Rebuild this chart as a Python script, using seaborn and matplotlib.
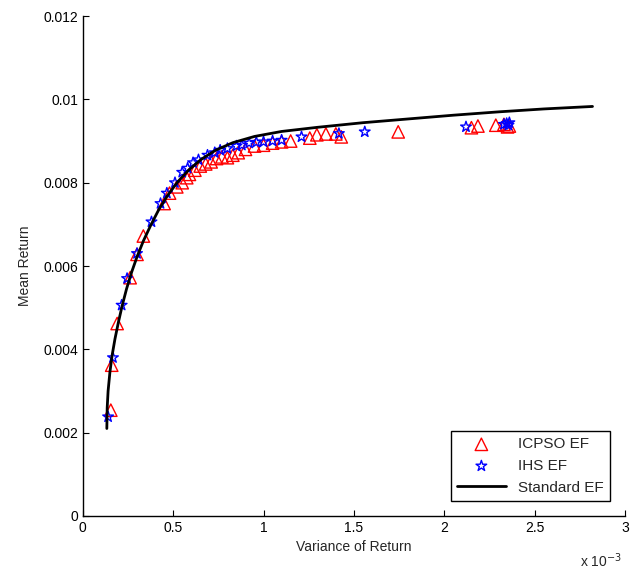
import numpy as np
import pandas as pd
import matplotlib
matplotlib.use("Agg")
import matplotlib.pyplot as plt
import seaborn as sns

# variance values are in units of 1e-3
icpso_var = [0.155, 0.160, 0.190, 0.262, 0.300, 0.335, 0.450, 0.480, 0.520, 0.550,
             0.575, 0.590, 0.620, 0.650, 0.680, 0.710, 0.740, 0.770, 0.800, 0.830,
             0.860, 0.900, 0.950, 1.000, 1.050, 1.100, 1.150, 1.256, 1.295, 1.345,
             1.400, 1.430, 1.745, 2.150, 2.186, 2.285, 2.330, 2.350, 2.360]
icpso_ret = [0.00254, 0.00362, 0.00462, 0.00572, 0.00628, 0.00672, 0.00750, 0.00775, 0.00790, 0.00800,
             0.00812, 0.00820, 0.00830, 0.00840, 0.00845, 0.00850, 0.00858, 0.00862, 0.00860, 0.00866,
             0.00872, 0.00880, 0.00888, 0.00890, 0.00895, 0.00898, 0.00900, 0.00907, 0.00915, 0.00917,
             0.00917, 0.00910, 0.00922, 0.00932, 0.00936, 0.00938, 0.00940, 0.00934, 0.00936]

ihs_var = [0.140, 0.167, 0.215, 0.245, 0.300, 0.380, 0.430, 0.465, 0.510, 0.550,
           0.580, 0.610, 0.640, 0.690, 0.730, 0.760, 0.800, 0.850, 0.880, 0.920,
           0.960, 1.000, 1.050, 1.100, 1.210, 1.417, 1.560, 2.120, 2.330, 2.345,
           2.355, 2.360]
ihs_ret = [0.00238, 0.00380, 0.00506, 0.00570, 0.00630, 0.00706, 0.00750, 0.00775, 0.00800, 0.00825,
           0.00835, 0.00848, 0.00855, 0.00866, 0.00872, 0.00878, 0.00882, 0.00888, 0.00890, 0.00895,
           0.00897, 0.00898, 0.00900, 0.00902, 0.00910, 0.00918, 0.00922, 0.00934, 0.00940, 0.00942,
           0.00938, 0.00944]

std_var = [0.133, 0.135, 0.140, 0.150, 0.162, 0.178, 0.197, 0.218, 0.242, 0.270,
           0.300, 0.335, 0.375, 0.420, 0.470, 0.525, 0.585, 0.655, 0.735, 0.830,
           0.950, 1.10, 1.30, 1.55, 1.80, 2.05, 2.30, 2.55, 2.82]
std_ret = [0.00210, 0.00260, 0.00300, 0.00345, 0.00385, 0.00425, 0.00465, 0.00505, 0.00545, 0.00585,
           0.00622, 0.00660, 0.00697, 0.00735, 0.00770, 0.00802, 0.00830, 0.00856, 0.00878, 0.00896,
           0.00911, 0.00923, 0.00933, 0.00944, 0.00953, 0.00962, 0.00970, 0.00977, 0.00983]

x_ticks = [0, 0.5, 1, 1.5, 2, 2.5, 3]
x_tick_labels = ['0', '0.5', '1', '1.5', '2', '2.5', '3']
y_ticks = [0, 0.002, 0.004, 0.006, 0.008, 0.01, 0.012]
y_tick_labels = ['0', '0.002', '0.004', '0.006', '0.008', '0.01', '0.012']

sns.set_style("ticks")
plt.rcParams['font.family'] = ['Liberation Sans', 'DejaVu Sans']

icpso = pd.DataFrame({'var': icpso_var, 'ret': icpso_ret})
ihs = pd.DataFrame({'var': ihs_var, 'ret': ihs_ret})
std = pd.DataFrame({'var': std_var, 'ret': std_ret})

fig = plt.figure(figsize=(6.32, 5.73), dpi=100)
ax = fig.add_axes([0.131, 0.0995, 0.858, 0.8725])

sns.scatterplot(data=icpso, x='var', y='ret', marker='^', s=80, facecolors='none',
                edgecolor='red', linewidth=1.0, label='ICPSO EF', ax=ax)
sns.scatterplot(data=ihs, x='var', y='ret', marker='*', s=65, facecolors='none',
                edgecolor='blue', linewidth=1.0, label='IHS EF', ax=ax)
sns.lineplot(data=std, x='var', y='ret', sort=False, color='black', linewidth=2,
             label='Standard EF', ax=ax)

ax.set_xlim(0, 3)
ax.set_ylim(0, 0.012)
ax.set_xticks(x_ticks)
ax.set_xticklabels(x_tick_labels)
ax.set_yticks(y_ticks)
ax.set_yticklabels(y_tick_labels)
ax.tick_params(direction='in', length=4, labelsize=10, colors='black')
ax.set_xlabel('Variance of Return', fontsize=10)
ax.set_ylabel('Mean Return', fontsize=10, labelpad=8)
sns.despine(ax=ax)
for s in ['left', 'bottom']:
    ax.spines[s].set_color('black')
    ax.spines[s].set_linewidth(1)

ax.text(0.995, -0.09, r'x 10$^{-3}$', transform=ax.transAxes, ha='right', va='center', fontsize=10)

leg = ax.legend(loc='lower right', fontsize=11, frameon=True, fancybox=False,
                edgecolor='black', framealpha=1, borderaxespad=1.0, handlelength=3.2)
leg.get_frame().set_linewidth(1)

fig.savefig('out.png', dpi=100)
